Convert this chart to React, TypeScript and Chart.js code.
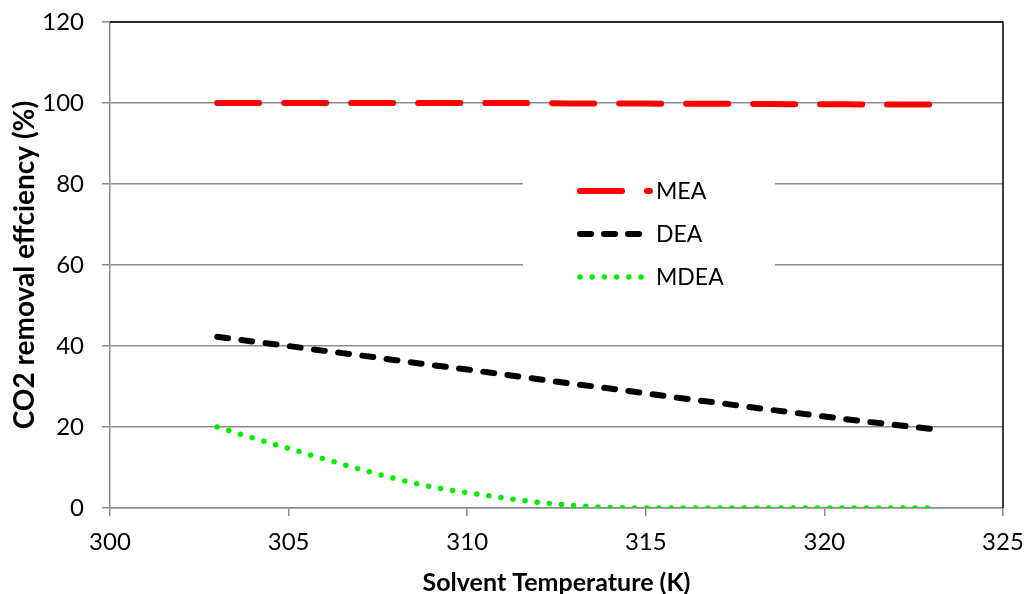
import React, { useEffect, useRef } from "react";
import { Chart, registerables } from "chart.js";

Chart.register(...registerables);

const temperatures = [303, 304, 305, 306, 307, 308, 309, 310, 311, 312, 313, 314, 315, 316, 317, 318, 319, 320, 321, 322, 323];
const meaValues = [100, 100, 100, 100, 100, 100, 100, 100, 100, 99.95, 99.9, 99.9, 99.85, 99.8, 99.8, 99.75, 99.7, 99.7, 99.65, 99.6, 99.6];
const deaValues = [42.3, 41.1, 40.0, 38.8, 37.7, 36.5, 35.3, 34.2, 33.0, 31.8, 30.6, 29.5, 28.3, 27.1, 26.0, 24.8, 23.7, 22.6, 21.5, 20.5, 19.5];
const mdeaValues = [20, 17.3, 14.7, 12.1, 9.6, 7.2, 5.2, 3.8, 2.5, 1.4, 0.6, 0.15, 0, 0, 0, 0, 0, 0, 0, 0, 0];
const seriesNames = ["MEA", "DEA", "MDEA"];
const xTitle = "Solvent Temperature (K)";
const yTitle = "CO2 removal effciency (%)";

const FONT = "Lato";

const styles = [
  { color: "#ff0000", width: 6, dash: [42, 25], legendLen: 73 },
  { color: "#000000", width: 6, dash: [11, 13.4], legendLen: 67 },
  { color: "#00ee00", width: 5.5, dash: [0, 12.2], legendLen: 66 },
];

const legendPlugin = {
  id: "insideLegend",
  afterDatasetsDraw(chart: any) {
    const ctx = chart.ctx;
    ctx.save();
    ctx.fillStyle = "#ffffff";
    ctx.fillRect(523, 166, 252, 126);
    const rows = [191, 234, 277];
    seriesNames.forEach((name, i) => {
      const s = styles[i];
      const y = rows[i];
      ctx.beginPath();
      ctx.strokeStyle = s.color;
      ctx.lineWidth = s.width;
      ctx.lineCap = "round";
      ctx.setLineDash(i === 1 ? [11, 13] : s.dash);
      ctx.moveTo(580, y);
      ctx.lineTo(580 + s.legendLen - 3, y);
      ctx.stroke();
      ctx.setLineDash([]);
      ctx.fillStyle = "#000000";
      ctx.font = `23px ${FONT}`;
      ctx.textAlign = "left";
      ctx.textBaseline = "middle";
      ctx.fillText(name, 656, y + 1);
    });
    ctx.restore();
  },
  afterDraw(chart: any) {
    const { ctx, chartArea } = chart;
    ctx.save();
    ctx.strokeStyle = "#000000";
    ctx.lineWidth = 1.5;
    ctx.beginPath();
    ctx.moveTo(chartArea.left, chartArea.top);
    ctx.lineTo(chartArea.right, chartArea.top);
    ctx.lineTo(chartArea.right, chartArea.bottom);
    ctx.stroke();
    ctx.restore();
  },
};

const zeroPad = (s: any) => {
  s.paddingTop = 0;
  s.paddingBottom = 0;
  s.paddingLeft = 0;
  s.paddingRight = 0;
};

export default function App() {
  const canvasRef = useRef<HTMLCanvasElement | null>(null);

  useEffect(() => {
    if (!canvasRef.current) return;
    const mk = (vals: number[]) => temperatures.map((t, i) => ({ x: t, y: vals[i] }));
    const allValues = [meaValues, deaValues, mdeaValues];
    const chart = new Chart(canvasRef.current, {
      type: "line",
      data: {
        datasets: allValues.map((vals, i) => ({
          label: seriesNames[i],
          data: mk(vals),
          borderColor: styles[i].color,
          backgroundColor: styles[i].color,
          borderWidth: styles[i].width,
          borderDash: styles[i].dash,
          borderCapStyle: "round",
          pointRadius: 0,
          cubicInterpolationMode: "monotone",
          fill: false,
        })),
      },
      options: {
        responsive: false,
        animation: false,
        layout: { padding: { left: 0, top: 22, right: 25, bottom: 0 } },
        plugins: { legend: { display: false }, tooltip: { enabled: false } },
        scales: {
          x: {
            type: "linear",
            min: 300,
            max: 325,
            afterFit: (s: any) => { s.height = 86; zeroPad(s); },
            ticks: { stepSize: 5, color: "#000", font: { family: FONT, size: 24 }, padding: 12, maxRotation: 0 },
            grid: { drawOnChartArea: false, drawTicks: true, tickLength: 8, color: "#8c8c8c", lineWidth: 1.5 },
            border: { color: "#8c8c8c", width: 1.5 },
            title: { display: true, text: xTitle, color: "#000", font: { family: FONT, size: 25, weight: "bold" }, padding: { top: 0, bottom: -4 } },
          },
          y: {
            min: 0,
            max: 120,
            afterFit: (s: any) => { s.width = 110; zeroPad(s); },
            ticks: { stepSize: 20, color: "#000", font: { family: FONT, size: 24 }, padding: 18 },
            grid: { drawOnChartArea: true, drawTicks: true, tickLength: 8, color: "#8c8c8c", lineWidth: 1.5 },
            border: { color: "#8c8c8c", width: 1.5 },
            title: { display: true, text: yTitle, color: "#000", font: { family: FONT, size: 28, weight: "bold" }, padding: { top: 8, bottom: 0 } },
          },
        },
      },
      plugins: [legendPlugin],
    } as any);
    return () => chart.destroy();
  }, []);

  return (
    <div style={{ position: "fixed", left: 0, top: 0, width: 1028, height: 594, background: "#fff" }}>
      <canvas ref={canvasRef} width={1028} height={594} style={{ display: "block" }} />
    </div>
  );
}
